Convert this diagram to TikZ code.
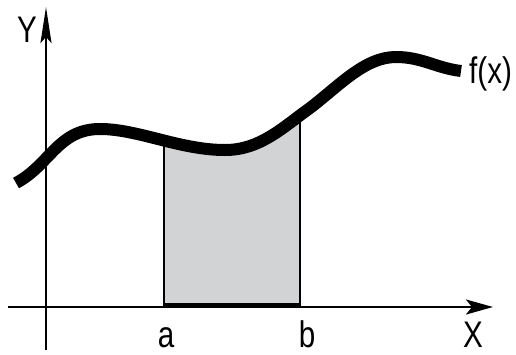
\documentclass[tikz,border=0pt]{standalone}
\usepackage{fontspec}
\setmainfont{Liberation Sans}
\usetikzlibrary{arrows.meta}
\definecolor{areagray}{HTML}{D1D3D4}
\tikzset{
  lbl/.style={inner sep=0pt, font=\fontsize{37}{40}\selectfont, xscale=0.8},
  axis/.style={line width=2.6pt},
  curveline/.style={line width=12pt, line cap=butt},
  edge/.style={line width=2.4pt}
}
\begin{document}
\begin{tikzpicture}[x=1pt,y=-1pt]
\useasboundingbox (0,0) rectangle (516,354);
\def\fcurve{(16,183) .. controls (50,165) and (58,129) .. (100,129)
  .. controls (138,129) and (180,150) .. (225,150)
  .. controls (260,150) and (282,128) .. (310,108)
  .. controls (340,85) and (365,57) .. (396,57)
  .. controls (422,57) and (436,68) .. (461,71)}
% shaded area
\begin{scope}
  \clip \fcurve -- (461,307) -- (16,307) -- cycle;
  \fill[areagray] (164,0) rectangle (300,307);
  \draw[edge] (164,307) -- (164,0);
  \draw[edge] (300,307) -- (300,0);
\end{scope}
\draw[line width=5pt] (164,305.5) -- (300,305.5);
% axes
\coordinate (xs) at (8,307);
\coordinate (xe) at (493,307);
\coordinate (ys) at (46,350);
\coordinate (ye) at (46,7);
\draw[axis,-{Stealth[length=27pt,width=15pt,inset=6pt]}] (xs) -- (xe);
\draw[axis,-{Stealth[length=36pt,width=11pt,inset=6pt]}] (ys) -- (ye);
% curve
\draw[curveline] \fcurve;
% labels
\node[lbl,anchor=base] (ylab) at (27,42) {Y};
\node[lbl,anchor=base] (xlab) at (473,347) {X};
\node[lbl,anchor=base] (alab) at (166,347) {a};
\node[lbl,anchor=base] (blab) at (307,347) {b};
\node[lbl,anchor=base west] (flab) at (469,83) {f(x)};
\end{tikzpicture}
\end{document}
